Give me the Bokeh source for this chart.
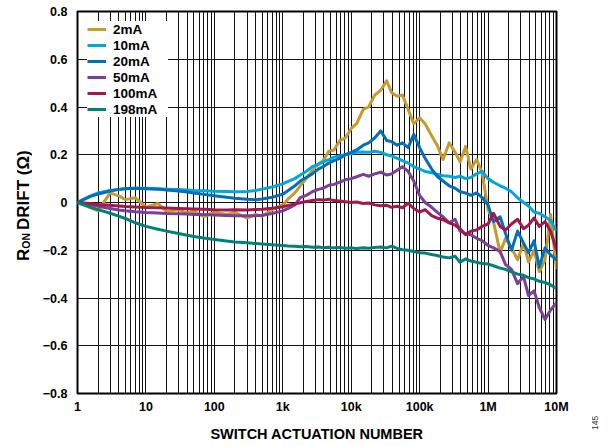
from bokeh.plotting import figure
from bokeh.layouts import row
from bokeh.models import (Range1d, FixedTicker, LogTicker, CustomJSTickFormatter,
                          Legend, LegendItem, Div)
from bokeh.embed import file_html
from bokeh.resources import INLINE

# ---------------- data ----------------
actuations = [1, 1.5, 2, 3, 4, 5, 7,
              10, 15, 20, 30, 40, 50, 70,
              100, 150, 200, 300, 400, 500, 700,
              1e3, 1.2e3, 1.5e3, 1.8e3, 2.2e3, 2.7e3, 3.3e3, 3.9e3, 4.7e3, 5.6e3, 6.8e3, 8.2e3,
              1e4, 1.2e4, 1.5e4, 1.8e4, 2.2e4, 2.7e4, 3.3e4, 3.9e4, 4.7e4, 5.6e4, 6.8e4, 8.2e4,
              1e5, 1.2e5, 1.5e5, 1.8e5, 2.2e5, 2.7e5, 3.3e5, 3.9e5, 4.7e5, 5.6e5, 6.8e5, 8.2e5,
              1e6, 1.2e6, 1.5e6, 1.8e6, 2.2e6, 2.7e6, 3.3e6, 3.9e6, 4.7e6, 5.6e6, 6.8e6, 8.2e6,
              1e7]

drift_2mA = [0, -0.02, -0.035, 0.04, 0.028, 0.012, 0.02,
             -0.02, -0.004, -0.038, -0.03, -0.045, -0.035, -0.06,
             -0.04, -0.05, -0.042, -0.065, -0.05, -0.058, -0.03,
             -0.01, 0.015, 0.04, 0.07, 0.1, 0.135, 0.16, 0.175, 0.215, 0.22, 0.26, 0.27,
             0.31, 0.33, 0.39, 0.40, 0.45, 0.47, 0.51, 0.46, 0.445, 0.45, 0.39, 0.33,
             0.355, 0.33, 0.28, 0.24, 0.18, 0.25, 0.21, 0.17, 0.235, 0.14, 0.18, 0.125,
             -0.03, -0.08, -0.21, -0.15, -0.19, -0.24, -0.17, -0.25, -0.2, -0.29, -0.24, -0.05,
             -0.28]

drift_10mA = [0, 0.025, 0.04, 0.05, 0.055, 0.058, 0.06,
              0.06, 0.058, 0.056, 0.054, 0.052, 0.05, 0.049,
              0.047, 0.046, 0.045, 0.046, 0.05, 0.056, 0.065,
              0.078, 0.088, 0.1, 0.115, 0.13, 0.15, 0.16, 0.17, 0.18, 0.19, 0.195, 0.2,
              0.205, 0.21, 0.212, 0.21, 0.215, 0.21, 0.2, 0.195, 0.185, 0.175, 0.165, 0.15,
              0.14, 0.13, 0.125, 0.118, 0.112, 0.11, 0.105, 0.11, 0.1, 0.105, 0.12, 0.13,
              0.1, 0.085, 0.07, 0.06, 0.045, 0.02, 0.0, -0.015, -0.04, -0.045, -0.06, -0.075,
              -0.12]

drift_20mA = [0, 0.025, 0.035, 0.048, 0.055, 0.058, 0.06,
              0.058, 0.056, 0.052, 0.048, 0.044, 0.04, 0.034,
              0.028, 0.022, 0.018, 0.014, 0.012, 0.015, 0.022,
              0.035, 0.05, 0.07, 0.09, 0.105, 0.12, 0.14, 0.15, 0.165, 0.175, 0.185, 0.2,
              0.21, 0.22, 0.24, 0.25, 0.27, 0.3, 0.26, 0.255, 0.24, 0.25, 0.23, 0.285,
              0.23, 0.185, 0.14, 0.11, 0.09, 0.07, 0.06, 0.045, 0.04, 0.03, 0.04, 0.02,
              -0.01, -0.08, -0.06, -0.13, -0.2, -0.12, -0.17, -0.21, -0.16, -0.27, -0.19, -0.22,
              -0.24]

drift_50mA = [0, -0.008, -0.016, -0.025, -0.031, -0.035, -0.039,
              -0.042, -0.044, -0.046, -0.047, -0.048, -0.05, -0.05,
              -0.052, -0.054, -0.055, -0.056, -0.055, -0.053, -0.046,
              -0.035, -0.025, -0.01, 0.02, 0.03, 0.045, 0.055, 0.06, 0.072, 0.076, 0.085, 0.095,
              0.1, 0.108, 0.118, 0.11, 0.12, 0.127, 0.115, 0.12, 0.135, 0.15, 0.13, 0.09,
              0.03, 0.0, -0.02, -0.04, -0.06, -0.085, -0.07, -0.12, -0.13, -0.135, -0.15, -0.16,
              -0.18, -0.19, -0.205, -0.26, -0.28, -0.34, -0.31, -0.39, -0.37, -0.44, -0.49, -0.45,
              -0.42]

drift_100mA = [0, -0.004, -0.008, -0.012, -0.015, -0.017, -0.019,
               -0.021, -0.022, -0.023, -0.025, -0.026, -0.027, -0.028,
               -0.03, -0.031, -0.03, -0.031, -0.029, -0.028, -0.024,
               -0.018, -0.012, -0.006, -0.001, 0.004, 0.008, 0.012, 0.01, 0.014, 0.008, 0.006, 0.003,
               0.0, 0.002, -0.004, -0.002, -0.01, -0.014, -0.012, -0.02, -0.016, -0.022, -0.003, -0.025,
               -0.04, -0.03, -0.055, -0.065, -0.072, -0.085, -0.095, -0.11, -0.135, -0.12, -0.115, -0.1,
               -0.09, -0.045, -0.1, -0.115, -0.09, -0.07, -0.11, -0.095, -0.065, -0.1, -0.08, -0.12,
               -0.2]

drift_198mA = [0, -0.018, -0.03, -0.045, -0.057, -0.067, -0.085,
               -0.1, -0.112, -0.12, -0.13, -0.137, -0.142, -0.149,
               -0.155, -0.161, -0.165, -0.169, -0.172, -0.174, -0.177,
               -0.18, -0.182, -0.183, -0.185, -0.184, -0.187, -0.186, -0.189, -0.187, -0.19, -0.188, -0.192,
               -0.19, -0.193, -0.19, -0.192, -0.188, -0.186, -0.19, -0.183, -0.192, -0.198, -0.2, -0.205,
               -0.21, -0.212, -0.218, -0.222, -0.228, -0.232, -0.225, -0.25, -0.236, -0.245, -0.25, -0.256,
               -0.258, -0.265, -0.275, -0.28, -0.29, -0.3, -0.305, -0.315, -0.32, -0.33, -0.335, -0.345,
               -0.36]

series_names = ["2mA", "10mA", "20mA", "50mA", "100mA", "198mA"]
series_values = [drift_2mA, drift_10mA, drift_20mA, drift_50mA, drift_100mA, drift_198mA]
series_colors = ["#C69A2E", "#00A7DE", "#0070BA", "#7B3F98", "#A3184B", "#00817A"]

y_ticks = [-0.8, -0.6, -0.4, -0.2, 0, 0.2, 0.4, 0.6, 0.8]
x_tick_labels = {1: "1", 10: "10", 100: "100", 1000: "1k", 10000: "10k",
                 100000: "100k", 1000000: "1M", 10000000: "10M"}

y_title_parts = ["R", "ON", "DRIFT (Ω)"]
x_title = "SWITCH ACTUATION NUMBER"
figure_number = "145"

FONT = "Liberation Sans"
H = 446
TOP, BOTTOM = 11, 53

# ---------------- main figure ----------------
p = figure(width=560, height=H, x_axis_type="log",
           x_range=Range1d(1, 1e7), y_range=Range1d(-0.8, 0.8),
           output_backend="svg", toolbar_location=None,
           min_border_left=45, min_border_right=36, min_border_top=TOP, min_border_bottom=BOTTOM)

p.outline_line_color = "black"
p.outline_line_width = 2
p.background_fill_color = "white"
p.border_fill_color = "white"

p.xaxis.ticker = LogTicker(num_minor_ticks=10)
p.xgrid.grid_line_color = "#111111"
p.xgrid.grid_line_width = 1
p.xgrid.minor_grid_line_color = "#111111"
p.xgrid.minor_grid_line_width = 1
p.yaxis.ticker = FixedTicker(ticks=y_ticks)
p.ygrid.grid_line_color = "#111111"
p.ygrid.grid_line_width = 1

for ax in (p.xaxis[0], p.yaxis[0]):
    ax.axis_line_color = None
    ax.major_tick_line_color = None
    ax.minor_tick_line_color = None
    ax.major_tick_out = 0
    ax.major_tick_in = 0
    ax.minor_tick_out = 0
    ax.minor_tick_in = 0
    ax.major_label_text_font = FONT
    ax.major_label_text_font_style = "bold"
    ax.major_label_text_font_size = "12.5px"
    ax.major_label_text_color = "black"

p.xaxis.major_label_overrides = x_tick_labels
p.xaxis.major_label_standoff = 6
p.xaxis.axis_label = x_title
p.xaxis.axis_label_text_font = FONT
p.xaxis.axis_label_text_font_style = "bold"
p.xaxis.axis_label_text_font_size = "14.5px"
p.xaxis.axis_label_text_color = "black"
p.xaxis.axis_label_standoff = 9

p.yaxis.major_label_standoff = 10
p.yaxis.formatter = CustomJSTickFormatter(code="""
    const v = Math.round(tick * 10) / 10;
    if (v === 0) { return "0"; }
    const s = Math.abs(v).toFixed(1);
    return (v < 0 ? "\\u2212" : "") + s;
""")

items = []
for name, vals, col in zip(series_names, series_values, series_colors):
    r = p.line(actuations, vals, line_color=col, line_width=3, line_join="round")
    items.append(LegendItem(label=name, renderers=[r]))

legend = Legend(items=items, location="top_left",
                label_text_font=FONT, label_text_font_style="bold",
                label_text_font_size="13.5px", label_text_color="black",
                glyph_width=19, glyph_height=16, label_height=16, label_width=55,
                spacing=0, padding=6, margin=10, label_standoff=7,
                border_line_color=None, background_fill_color="white",
                background_fill_alpha=1.0)
p.add_layout(legend)

# ---------------- left strip: y-axis title with subscript ----------------
svg_title = ('<svg xmlns="http://www.w3.org/2000/svg" width="32" height="%d" style="display:block">'
             '<text x="28.5" y="261" transform="rotate(-90 28.5 261)" '
             'font-family="Liberation Sans" font-weight="bold" font-size="17" fill="black">'
             '%s<tspan font-size="10.5" dy="1">%s</tspan>'
             '<tspan font-size="17" dy="-1" dx="3">%s</tspan></text></svg>'
             % (H, y_title_parts[0], y_title_parts[1], y_title_parts[2]))
left = Div(text=svg_title, width=32, height=H, margin=0)

# ---------------- right strip: figure number ----------------
svg_num = ('<svg xmlns="http://www.w3.org/2000/svg" width="16" height="%d" style="display:block">'
           '<text x="5.5" y="430" transform="rotate(-90 5.5 430)" '
           'font-family="Liberation Sans" font-size="8.5" fill="#333333">%s</text></svg>'
           % (H, figure_number))
right = Div(text=svg_num, width=16, height=H, margin=0)

layout = row(left, p, right, spacing=0)
open("out.html", "w").write(file_html(layout, INLINE))
